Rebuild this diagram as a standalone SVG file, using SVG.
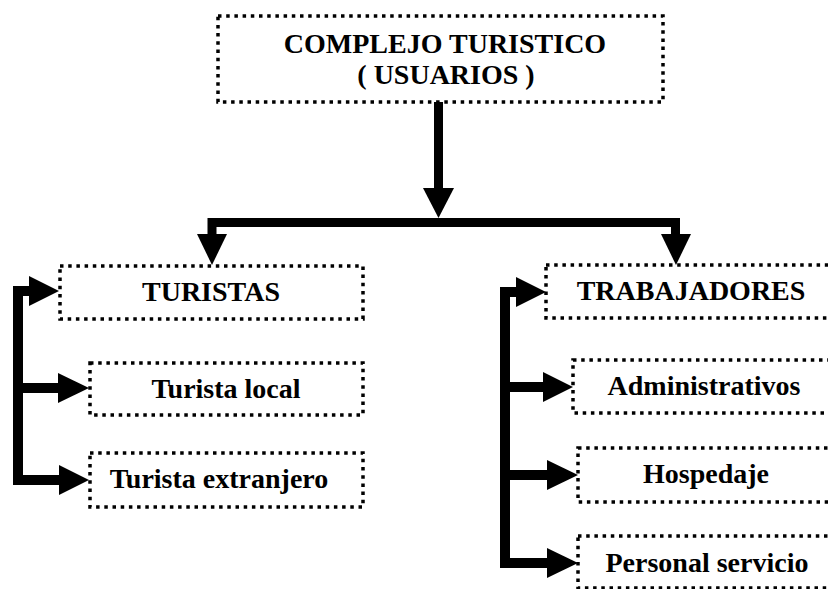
<svg xmlns="http://www.w3.org/2000/svg" width="828" height="589" viewBox="0 0 828 589">
<style>
.box{fill:#fff;stroke:#000;stroke-width:3.5;stroke-dasharray:3.5 4.7}
.t{font-family:"Liberation Serif","Times New Roman",serif;font-weight:bold;font-size:28px;fill:#000;text-anchor:middle}
.ln{fill:none;stroke:#000;stroke-width:10;stroke-linejoin:miter;stroke-linecap:butt}
.hd{fill:#000}
</style>
<rect width="828" height="589" fill="#fff"/>
<g id="connectors">
<path class="ln" d="M438.5 102 V190" style="stroke-width:9"/>
<polygon class="hd" points="423,188 454,188 438.5,218"/>
<path class="ln" d="M212 238 V222.5 H675.5 V238" style="stroke-width:9"/>
<polygon class="hd" points="197,234 227,234 212,265"/>
<polygon class="hd" points="661,234 691,234 676,265"/>
<path class="ln" d="M32 291 H18 V480 H62"/>
<path class="ln" d="M18 388 H60"/>
<polygon class="hd" points="29,276 59,291 29,306"/>
<polygon class="hd" points="58,373 89,388 58,403"/>
<polygon class="hd" points="59,465 89,480 59,495"/>
<path class="ln" d="M519 292 H505 V563 H549"/>
<path class="ln" d="M505 387 H545"/>
<path class="ln" d="M505 475 H549"/>
<polygon class="hd" points="516,277 546,292 516,307"/>
<polygon class="hd" points="543,372 573,387 543,402"/>
<polygon class="hd" points="547,460 578,475 547,490"/>
<polygon class="hd" points="547,548 578,563 547,578"/>
</g>
<g id="complejo">
<rect class="box" x="218" y="16" width="445" height="86"/>
<text class="t" x="445" y="53">COMPLEJO TURISTICO</text>
<text class="t" x="446" y="84">( USUARIOS )</text>
</g>
<g id="turistas">
<rect class="box" x="60" y="266" width="303" height="53"/>
<text class="t" x="211" y="301">TURISTAS</text>
</g>
<g id="turista-local">
<rect class="box" x="90" y="363" width="273" height="52"/>
<text class="t" x="226" y="398">Turista local</text>
</g>
<g id="turista-extranjero">
<rect class="box" x="90" y="453" width="273" height="54"/>
<text class="t" x="219" y="488">Turista extranjero</text>
</g>
<g id="trabajadores">
<rect class="box" x="546" y="265" width="290" height="53"/>
<text class="t" x="691" y="300">TRABAJADORES</text>
</g>
<g id="administrativos">
<rect class="box" x="573" y="360" width="263" height="53"/>
<text class="t" x="704" y="395">Administrativos</text>
</g>
<g id="hospedaje">
<rect class="box" x="578" y="448" width="258" height="54"/>
<text class="t" x="706" y="483">Hospedaje</text>
</g>
<g id="personal-servicio">
<rect class="box" x="578" y="536" width="258" height="52"/>
<text class="t" x="707" y="572">Personal servicio</text>
</g>
</svg>
